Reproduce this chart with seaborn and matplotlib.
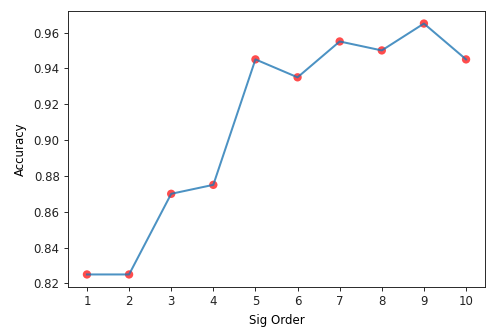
import matplotlib
matplotlib.use("Agg")
import matplotlib.pyplot as plt
import seaborn as sns
import pandas as pd

sig_order = [1, 2, 3, 4, 5, 6, 7, 8, 9, 10]
accuracy = [0.825, 0.825, 0.870, 0.875, 0.945, 0.935, 0.955, 0.950, 0.965, 0.945]
y_ticks = [0.82, 0.84, 0.86, 0.88, 0.90, 0.92, 0.94, 0.96]

df = pd.DataFrame({"Sig Order": sig_order, "Accuracy": accuracy})

plt.rcParams["font.family"] = ["DejaVu Sans"]
plt.rcParams["font.size"] = 10

DPI = 85
fig = plt.figure(figsize=(487 / DPI, 333 / DPI), dpi=DPI)
ax = fig.add_axes([68 / 487, 1 - 287 / 333, (485 - 68) / 487, (287 - 11) / 333])

sns.scatterplot(data=df, x="Sig Order", y="Accuracy", color="red", alpha=0.7,
                s=50, edgecolor="none", ax=ax, zorder=2)
sns.lineplot(data=df, x="Sig Order", y="Accuracy", color="tab:blue", alpha=0.8,
             linewidth=1.7, ax=ax, zorder=3)

ax.set_xticks(sig_order)
ax.set_yticks(y_ticks)
ax.set_yticklabels([f"{v:.2f}" for v in y_ticks])
ax.set_xlabel("Sig Order", labelpad=5)
ax.set_ylabel("Accuracy", labelpad=6)
for s in ax.spines.values():
    s.set_color("#222222")
ax.tick_params(color="#222222", labelcolor="#222222")

fig.savefig("out.png", dpi=DPI)
